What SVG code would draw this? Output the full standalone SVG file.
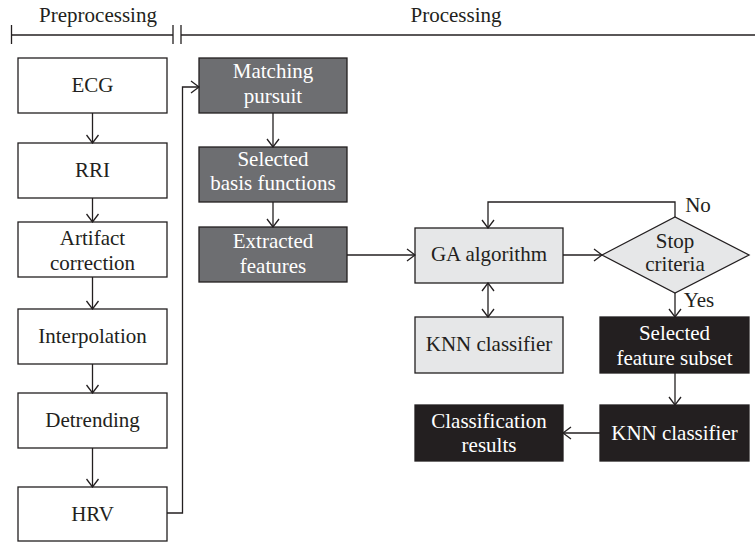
<svg xmlns="http://www.w3.org/2000/svg" width="755" height="543" viewBox="0 0 755 543">
<style>
text{font-family:"Liberation Serif","Times New Roman",serif;font-size:21px;text-anchor:middle;fill:#231f20}
.w rect{fill:#fff;stroke:#231f20;stroke-width:1.3}
.g rect{fill:#6d6e71;stroke:#231f20;stroke-width:1.3}
.g text,.k text{fill:#fff}
.l rect,.l polygon{fill:#e6e7e8;stroke:#231f20;stroke-width:1.3}
.k rect{fill:#231f20;stroke:#231f20;stroke-width:1.3}
.c path,.c line{fill:none;stroke:#231f20;stroke-width:1.3}
.h line{stroke:#231f20;stroke-width:1.3}
</style>
<defs>
<marker id="a" viewBox="0 0 10 14" refX="9" refY="7" markerWidth="10" markerHeight="14" markerUnits="userSpaceOnUse" orient="auto-start-reverse">
<path d="M1,1 L9,7 L1,13" fill="none" stroke="#231f20" stroke-width="1.3"/>
</marker>
</defs>
<g id="header" class="h">
<text x="98" y="22">Preprocessing</text>
<text x="456" y="22">Processing</text>
<line x1="11" y1="35" x2="173" y2="35"/>
<line x1="11.5" y1="25" x2="11.5" y2="44"/>
<line x1="173" y1="25" x2="173" y2="44"/>
<line x1="181" y1="25" x2="181" y2="44"/>
<line x1="181" y1="35" x2="755" y2="35"/>
</g>
<g id="ecg" class="w"><rect x="18" y="58" width="149" height="55"/><text x="92.5" y="92">ECG</text></g>
<g id="rri" class="w"><rect x="18" y="143" width="149" height="55"/><text x="92.5" y="177">RRI</text></g>
<g id="artifact" class="w"><rect x="18" y="222" width="149" height="55"/><text x="92.5" y="245">Artifact</text><text x="92.5" y="270">correction</text></g>
<g id="interp" class="w"><rect x="18" y="309" width="149" height="55"/><text x="92.5" y="343">Interpolation</text></g>
<g id="detrend" class="w"><rect x="18" y="393" width="149" height="55"/><text x="92.5" y="427">Detrending</text></g>
<g id="hrv" class="w"><rect x="18" y="487" width="149" height="54"/><text x="92.5" y="521">HRV</text></g>
<g id="mp" class="g"><rect x="199" y="58" width="148" height="55"/><text x="273" y="78">Matching</text><text x="273" y="103">pursuit</text></g>
<g id="sbf" class="g"><rect x="199" y="147" width="148" height="55"/><text x="273" y="166">Selected</text><text x="273" y="190">basis functions</text></g>
<g id="ef" class="g"><rect x="199" y="227" width="148" height="55"/><text x="273" y="248">Extracted</text><text x="273" y="273">features</text></g>
<g id="ga" class="l"><rect x="415" y="228" width="148" height="55"/><text x="489" y="261">GA algorithm</text></g>
<g id="knn1" class="l"><rect x="415" y="317" width="148" height="56"/><text x="489" y="351">KNN classifier</text></g>
<g id="stop" class="l"><polygon points="602,255 675,217 749,255 675,293"/><text x="675" y="248">Stop</text><text x="675" y="271">criteria</text></g>
<g id="sfs" class="k"><rect x="600" y="317" width="149" height="56"/><text x="674.5" y="340">Selected</text><text x="674.5" y="365">feature subset</text></g>
<g id="knn2" class="k"><rect x="600" y="405" width="149" height="56"/><text x="674.5" y="440">KNN classifier</text></g>
<g id="cr" class="k"><rect x="415" y="405" width="148" height="56"/><text x="489" y="428">Classification</text><text x="489" y="452">results</text></g>
<g id="labels">
<text x="698" y="212">No</text>
<text x="699" y="307">Yes</text>
</g>
<g id="connectors" class="c">
<line x1="92.5" y1="113" x2="92.5" y2="143" marker-end="url(#a)"/>
<line x1="92.5" y1="198" x2="92.5" y2="222" marker-end="url(#a)"/>
<line x1="92.5" y1="277" x2="92.5" y2="309" marker-end="url(#a)"/>
<line x1="92.5" y1="364" x2="92.5" y2="393" marker-end="url(#a)"/>
<line x1="92.5" y1="448" x2="92.5" y2="487" marker-end="url(#a)"/>
<path d="M167,513 H182.5 V87 H199" marker-end="url(#a)"/>
<line x1="273" y1="113" x2="273" y2="147" marker-end="url(#a)"/>
<line x1="273" y1="202" x2="273" y2="227" marker-end="url(#a)"/>
<line x1="347" y1="255" x2="415" y2="255" marker-end="url(#a)"/>
<line x1="563" y1="255" x2="602" y2="255" marker-end="url(#a)"/>
<path d="M675,217 V202 H488 V228" marker-end="url(#a)"/>
<line x1="488" y1="283" x2="488" y2="317" marker-start="url(#a)" marker-end="url(#a)"/>
<line x1="675" y1="293" x2="675" y2="317" marker-end="url(#a)"/>
<line x1="675" y1="373" x2="675" y2="405" marker-end="url(#a)"/>
<line x1="600" y1="433" x2="563" y2="433" marker-end="url(#a)"/>
</g>
</svg>
